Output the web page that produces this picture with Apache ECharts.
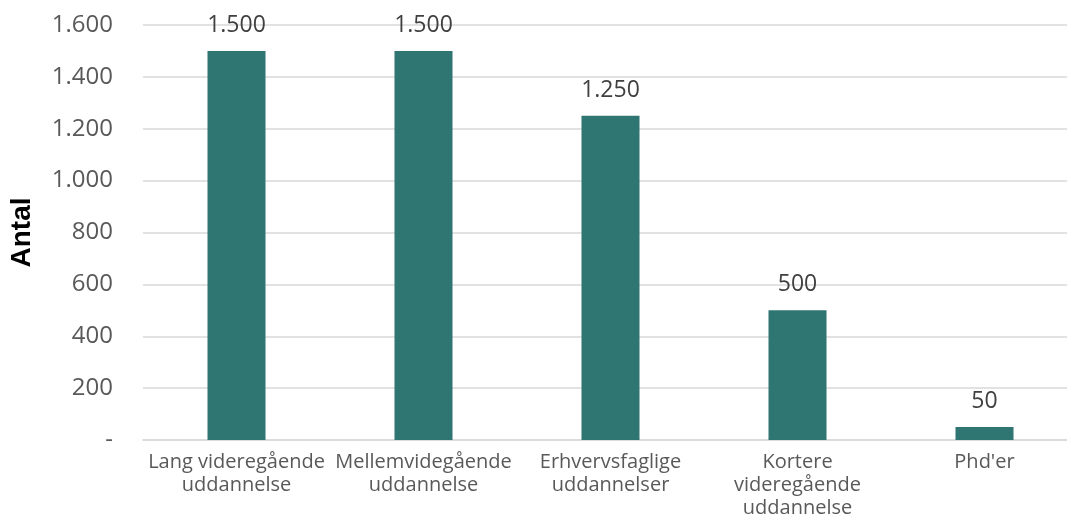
<!DOCTYPE html>
<html><head><meta charset="utf-8">
<script src="https://cdn.jsdelivr.net/npm/echarts@6/dist/echarts.min.js"></script>
<style>html,body{margin:0;padding:0;background:#fff}#c{width:1067px;height:518px}</style>
</head><body><div id="c"></div>
<script>
const categories = ["Lang videregående\nuddannelse", "Mellemvidegående\nuddannelse", "Erhvervsfaglige\nuddannelser", "Kortere\nvideregående\nuddannelse", "Phd'er"];
const values = [1500, 1500, 1250, 500, 50];
const yTicks = [0, 200, 400, 600, 800, 1000, 1200, 1400, 1600];
const fmt = v => v === 0 ? '-' : v.toLocaleString('de-DE');
const FONT = "'Open Sans', sans-serif";
const chart = echarts.init(document.getElementById('c'));
chart.setOption({
  animation: false,
  grid: { left: 143, top: 25, width: 935, bottom: 78, containLabel: false, outerBoundsMode: 'none' },
  xAxis: {
    type: 'category', data: categories,
    axisLine: { show: true, lineStyle: { color: '#d9d9d9', width: 1.5 } },
    axisTick: { show: false },
    axisLabel: { color: '#595959', fontSize: 20, fontFamily: FONT, lineHeight: 23, margin: 11, interval: 0 }
  },
  yAxis: {
    type: 'value', min: yTicks[0], max: yTicks[yTicks.length - 1], interval: 200,
    name: 'Antal', nameLocation: 'middle', nameGap: 107,
    nameTextStyle: { color: '#000', fontSize: 28, fontWeight: 'bold', fontFamily: "'Liberation Sans', Arial, sans-serif" },
    axisLine: { show: false }, axisTick: { show: false },
    splitLine: { lineStyle: { color: '#d9d9d9', width: 1.5 } },
    axisLabel: { color: '#595959', fontSize: 24, fontFamily: FONT, margin: 30, formatter: fmt }
  },
  series: [{
    type: 'bar', data: values, barWidth: 58,
    itemStyle: { color: '#2f7571' },
    label: { show: true, position: 'top', distance: 14, color: '#404040', fontSize: 23, fontFamily: FONT, formatter: p => fmt(p.value) }
  }]
});
</script></body></html>
